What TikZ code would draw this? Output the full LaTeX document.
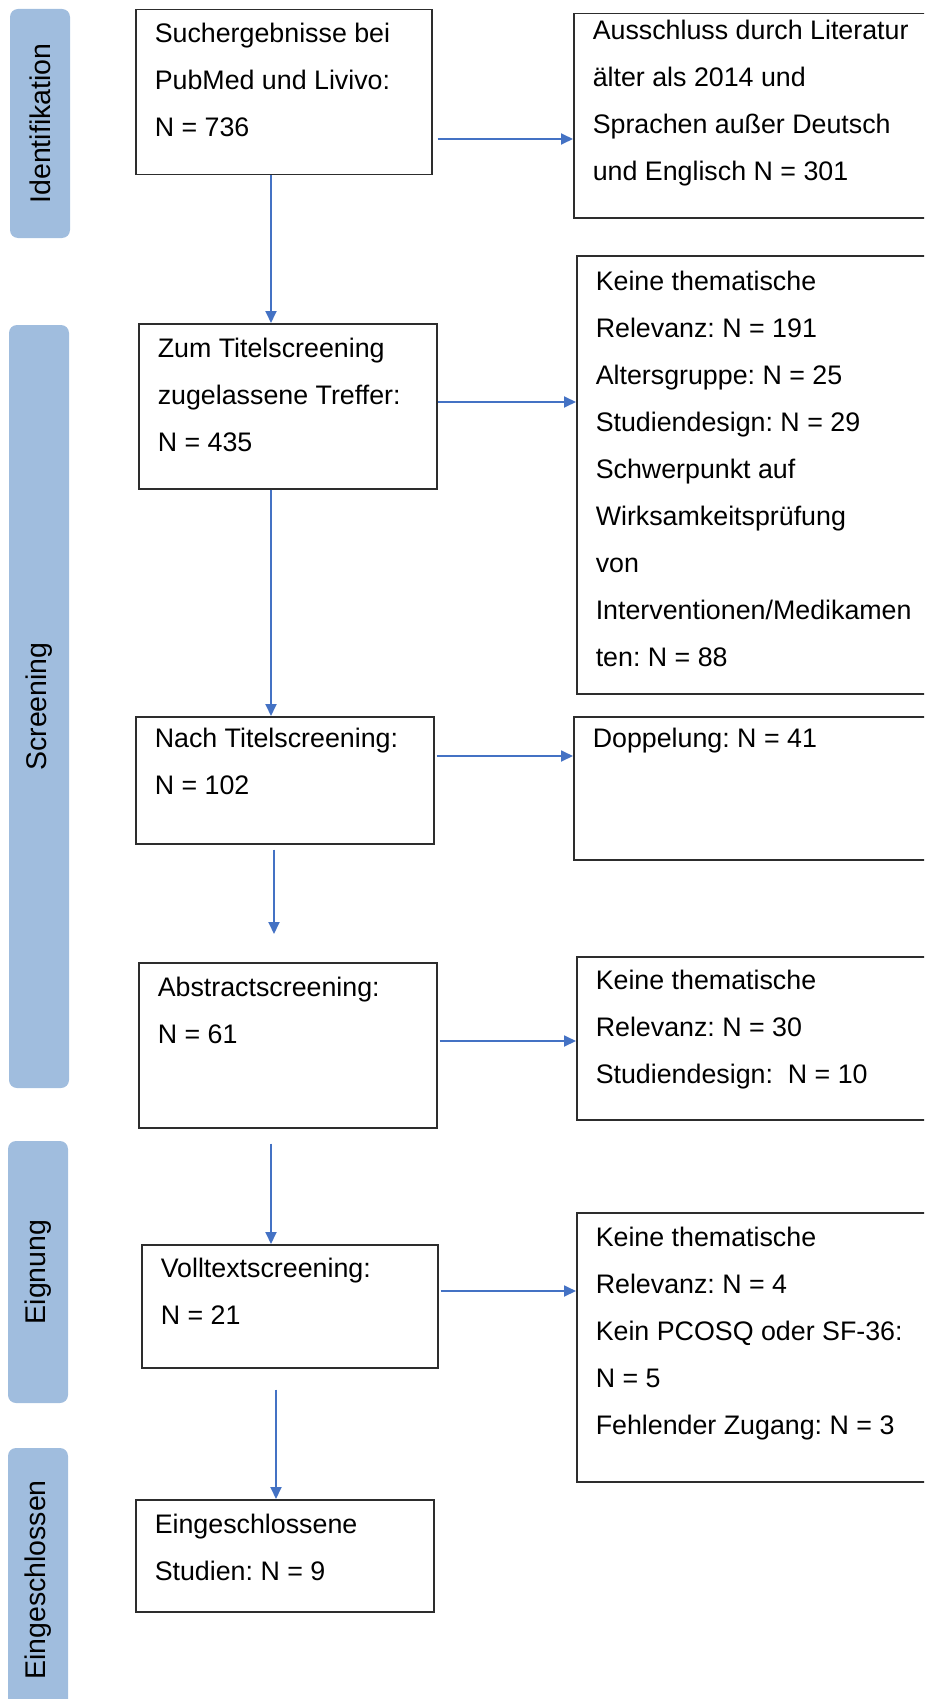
\documentclass[tikz,border=0pt]{standalone}
\usepackage{fontspec}
\setmainfont{Liberation Sans}
\usetikzlibrary{arrows.meta}
\definecolor{phaseblue}{RGB}{160,189,222}
\definecolor{flowblue}{RGB}{68,114,196}
\definecolor{framegray}{RGB}{45,45,45}
\frenchspacing
% top aligned text of a box: [first baseline]{width}{height}{lines}
\newcommand{\stagetext}[4][34pt]{\parbox[c][#3][t]{#2}{\leftskip=19pt\relax\rule{0pt}{#1}#4}}
\begin{document}
\begin{tikzpicture}[x=1pt,y=-1pt,
    stage/.style={draw=framegray,line width=1.5pt,anchor=north west,inner sep=0pt,
      font=\fontsize{26.8}{47}\selectfont},
    phase/.style={fill=phaseblue,rounded corners=8pt,rotate=90,minimum height=60pt,
      inner sep=0pt,font=\fontsize{28.5}{34}\selectfont},
    flow/.style={-{Triangle[length=12pt,width=11pt]},flowblue,line width=1.8pt}]
        \clip (0,0) rectangle (924,1699);
        % Phases
        \node[phase,minimum width=229pt] (identifikation) at (40,123.5) {Identifikation};
        \node[phase,minimum width=763pt] (screening) at (39,706.5) {Screening};
        \node[phase,minimum width=262pt] (eignung) at (38,1272) {Eignung};
        \node[phase,minimum width=264pt] (eingeschlossen) at (38,1580) {Eingeschlossen};
        % Boxes
        \node[stage] (search) at (135,9) {\stagetext[33pt]{296pt}{165pt}{Suchergebnisse bei\\PubMed und Livivo:\\N = 736}};
        \node[stage] (oldlang) at (573,13) {\stagetext[26pt]{377pt}{204pt}{Ausschluss durch Literatur\\älter als 2014 und\\Sprachen außer Deutsch\\und Englisch N = 301}};
        \node[stage] (title) at (138,323) {\stagetext{298pt}{165pt}{Zum Titelscreening\\zugelassene Treffer:\\N = 435}};
        \node[stage] (titleout) at (576,255) {\stagetext[35pt]{374pt}{438pt}{Keine thematische\\Relevanz: N = 191\\Altersgruppe: N = 25\\Studiendesign: N = 29\\Schwerpunkt auf\\Wirksamkeitsprüfung\\von\\Interventionen/Medikamen\\ten: N = 88}};
        \node[stage] (aftertitle) at (135,716) {\stagetext[31pt]{298pt}{127pt}{Nach Titelscreening:\\N = 102}};
        \node[stage] (duplicate) at (573,716) {\stagetext[31pt]{377pt}{143pt}{Doppelung: N = 41}};
        \node[stage] (abstract) at (138,962) {\stagetext{298pt}{165pt}{Abstractscreening:\\N = 61}};
        \node[stage] (abstractout) at (576,956) {\stagetext[33pt]{374pt}{163pt}{Keine thematische\\Relevanz: N = 30\\Studiendesign: \ N = 10}};
        \node[stage] (fulltext) at (141,1244) {\stagetext[33pt]{296pt}{123pt}{Volltextscreening:\\N = 21}};
        \node[stage] (fulltextout) at (576,1212) {\stagetext{374pt}{269pt}{Keine thematische\\Relevanz: N = 4\\Kein PCOSQ oder SF-36:\\N = 5\\Fehlender Zugang: N = 3}};
        \node[stage] (included) at (135,1499) {\stagetext{298pt}{112pt}{Eingeschlossene\\Studien: N = 9}};
        % Main path
        \draw[flow] (search.south -| 271,0) -- (title.north -| 271,0);
        \draw[flow] (title.south -| 271,0) -- (aftertitle.north -| 271,0);
        \draw[flow,shorten <=5pt,shorten >=28pt] (aftertitle.south -| 274,0) -- (abstract.north -| 274,0);
        \draw[flow,shorten <=15pt] (abstract.south -| 271,0) -- (fulltext.north -| 271,0);
        \draw[flow,shorten <=21pt] (fulltext.south -| 276,0) -- (included.north -| 276,0);
        % Exclusions
        \draw[flow,shorten <=5pt] (search.east |- 0,139) -- (oldlang.west |- 0,139);
        \draw[flow] (title.east |- 0,402) -- (titleout.west |- 0,402);
        \draw[flow,shorten <=2pt] (aftertitle.east |- 0,756) -- (duplicate.west |- 0,756);
        \draw[flow,shorten <=2pt] (abstract.east |- 0,1041) -- (abstractout.west |- 0,1041);
        \draw[flow,shorten <=2pt] (fulltext.east |- 0,1291) -- (fulltextout.west |- 0,1291);
    \end{tikzpicture}
\end{document}
